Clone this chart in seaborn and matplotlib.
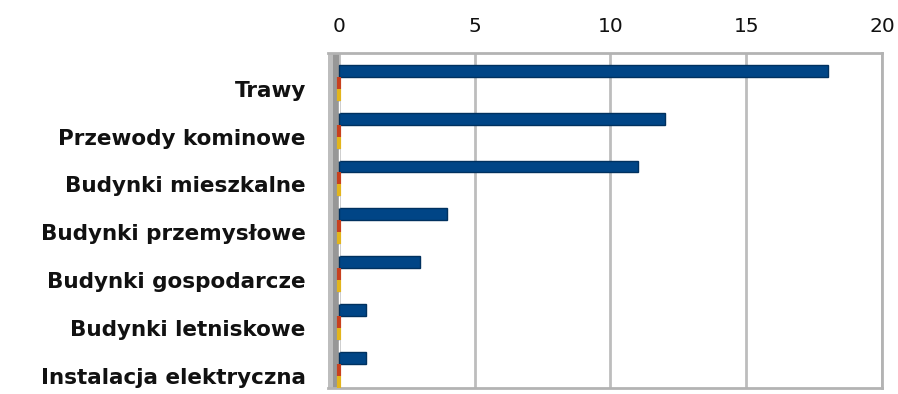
import matplotlib
matplotlib.use("Agg")
import matplotlib.pyplot as plt
import pandas as pd
import seaborn as sns

# Fire counts by object type
categories = [
    "Trawy",
    "Przewody kominowe",
    "Budynki mieszkalne",
    "Budynki przemysłowe",
    "Budynki gospodarcze",
    "Budynki letniskowe",
    "Instalacja elektryczna",
]
series_names = ["Seria 1", "Seria 2", "Seria 3", "Seria 4"]
series_1 = [18, 12, 11, 4, 3, 1, 1]
series_2 = [0, 0, 0, 0, 0, 0, 0]
series_3 = [0, 0, 0, 0, 0, 0, 0]
series_4 = [0, 0, 0, 0, 0, 0, 0]
x_ticks = [0, 5, 10, 15, 20]

colors = ["#004586", "#C8401E", "#E3B51C", "#7EB33A"]

sns.set_style("white")
plt.rcParams["font.family"] = ["DejaVu Sans"]

rows = []
for name, vals in zip(series_names, [series_1, series_2, series_3, series_4]):
    for cat, v in zip(categories, vals):
        rows.append({"kategoria": cat, "liczba": v, "seria": name})
df = pd.DataFrame(rows)

fig = plt.figure(figsize=(8.98, 3.94), dpi=100)
ax = fig.add_axes([328 / 898, 1 - 388 / 394, 554 / 898, 335 / 394])

sns.barplot(
    data=df, y="kategoria", x="liczba", hue="seria", order=categories,
    hue_order=series_names, palette=colors, saturation=1, orient="h",
    width=1.0, dodge=True, legend=False, ax=ax, zorder=3,
)

# main series: slight dark rim for a bevelled look
for bar in ax.containers[0]:
    bar.set_edgecolor("#00315F")
    bar.set_linewidth(1.0)
# zero-valued series show up as thin stubs on the side wall
for cont, col in zip(ax.containers[1:3], colors[1:3]):
    for bar in cont:
        bar.set_edgecolor(col)
        bar.set_linewidth(3)
        bar.set_zorder(4)

ax.set_xlim(-0.4, 20)
ax.set_ylim(6.26, -0.75)
# side wall of the plot area
ax.axvspan(-0.4, -0.2, color="#BDBDBD", zorder=2, lw=0)
ax.axvspan(-0.2, 0, color="#979797", zorder=2, lw=0)

ax.xaxis.tick_top()
ax.set_xticks(x_ticks)
ax.set_xticklabels([str(t) for t in x_ticks], fontsize=14.5, color="#111111")
ax.tick_params(axis="x", length=0, pad=12)
ax.tick_params(axis="y", length=0, pad=16)
for lbl in ax.get_yticklabels():
    lbl.set_fontsize(15.5)
    lbl.set_fontweight("bold")
    lbl.set_color("#111111")

ax.xaxis.grid(True, color="#BDBDBD", linewidth=2, zorder=1)
ax.yaxis.grid(False)
ax.set_axisbelow(True)

for side in ["top", "right", "bottom"]:
    ax.spines[side].set_color("#B3B3B3")
    ax.spines[side].set_linewidth(2)
ax.spines["left"].set_visible(False)

ax.set_xlabel("")
ax.set_ylabel("")

fig.savefig("out.png", dpi=100)
